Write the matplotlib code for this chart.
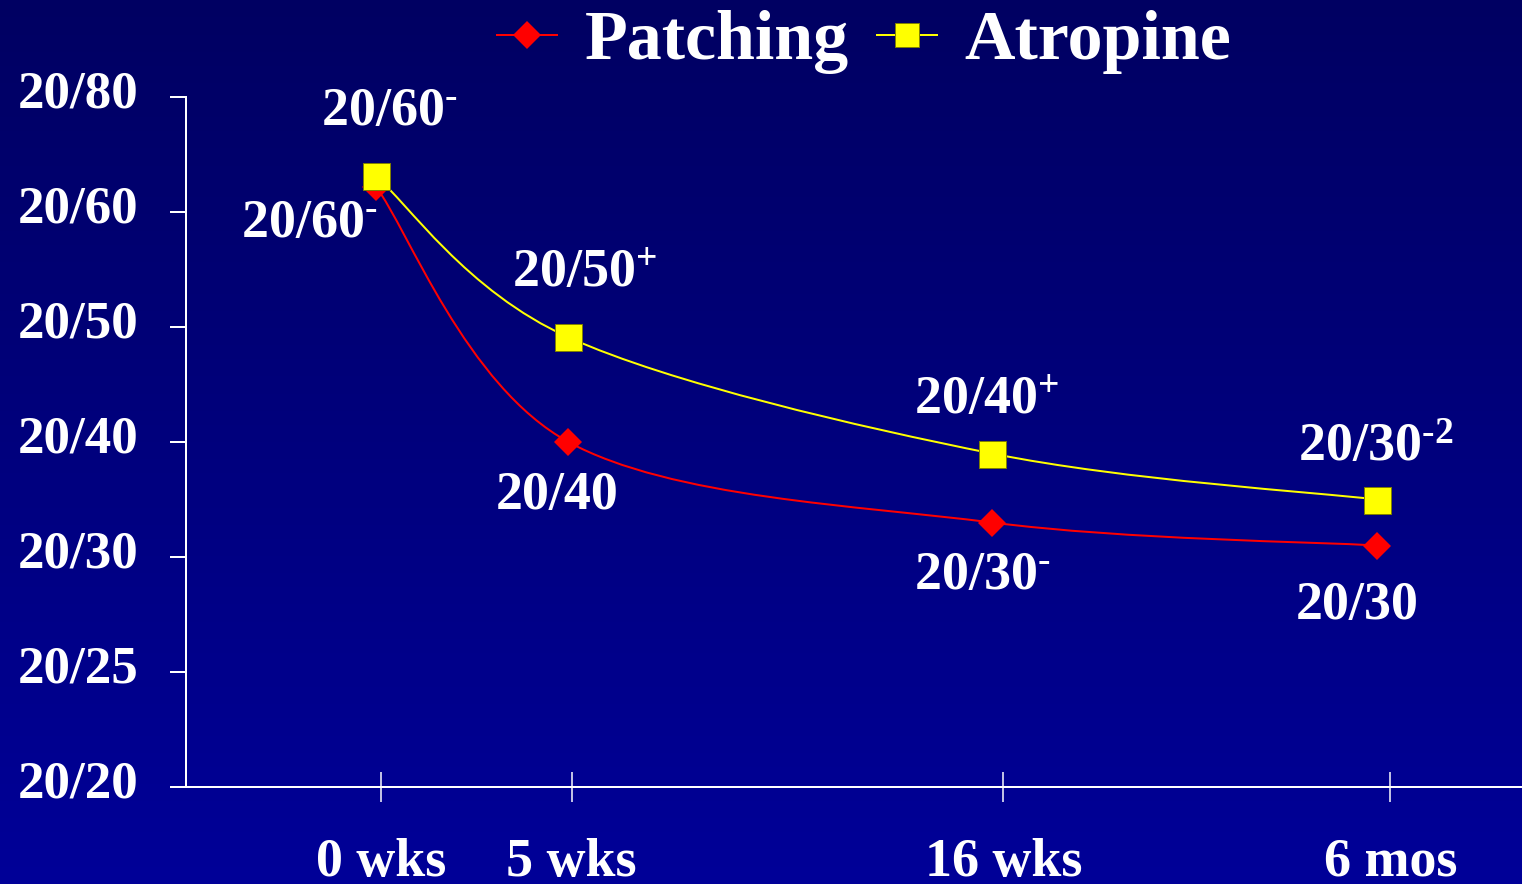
import numpy as np
import matplotlib
matplotlib.use('Agg')
import matplotlib.pyplot as plt
from matplotlib.colors import LinearSegmentedColormap
from matplotlib.lines import Line2D
from matplotlib.path import Path
from matplotlib.patches import PathPatch
from matplotlib.transforms import ScaledTranslation

plt.rcParams['font.family'] = ['Liberation Serif', 'DejaVu Serif']
plt.rcParams['font.weight'] = 'bold'
plt.rcParams['mathtext.fontset'] = 'custom'
plt.rcParams['mathtext.rm'] = 'Liberation Serif:bold'
plt.rcParams['mathtext.bf'] = 'Liberation Serif:bold'
plt.rcParams['mathtext.it'] = 'Liberation Serif:bold'
plt.rcParams['mathtext.default'] = 'rm'

# data
weeks = [0, 5, 16, 26]
tick_weeks = [0.13, 5.08, 16.3, 26.35]
x_labels = ['0 wks', '5 wks', '16 wks', '6 mos']
acuity_labels = ['20/20', '20/25', '20/30', '20/40', '20/50', '20/60', '20/80']
patching = [5.22, 3.00, 2.30, 2.10]
atropine = [5.31, 3.91, 2.90, 2.50]
patching_text = [r'$20/60^{\text{-}}$', '20/40', r'$20/30^{\text{-}}$', '20/30']
atropine_text = [r'$20/60^{\text{-}}$', r'$20/50^{+}$', r'$20/40^{+}$', r'$20/30^{\text{-}2}$']

# label offsets in points (= pixels at 72 dpi)
patching_off = [(-135, -50), (-73, -67), (-78, -67), (-81, -74)]
atropine_off = [(-55, 51), (-56, 51), (-78, 40), (-79, 38)]


def smooth_path(xs, ys):
    # excel-like smoothed line as cubic bezier segments
    pts = np.column_stack([xs, ys]).astype(float)
    n = len(pts)
    verts = [pts[0]]
    codes = [Path.MOVETO]
    for i in range(n - 1):
        p0 = pts[max(i - 1, 0)]
        p1 = pts[i]
        p2 = pts[i + 1]
        p3 = pts[min(i + 2, n - 1)]
        c1 = p1 + (p2 - p0) / 6
        c2 = p2 - (p3 - p1) / 6
        verts += [c1, c2, p2]
        codes += [Path.CURVE4] * 3
    return Path(verts, codes)


W, H = 1522, 884
fig = plt.figure(figsize=(W / 72, H / 72), dpi=72)

# gradient background
bg = fig.add_axes([0, 0, 1, 1], zorder=-1)
cmap = LinearSegmentedColormap.from_list('bg', ['#000062', '#000098'])
bg.imshow(np.linspace(0, 1, 256).reshape(-1, 1), aspect='auto', cmap=cmap,
          extent=[0, 1, 0, 1], origin='upper')
bg.axis('off')

ax = fig.add_axes([186 / W, (H - 787) / H, (W - 186) / W, 690 / H])
ax.patch.set_alpha(0)

ax.set_xlim(-4.935, 29.77)
ax.set_ylim(0, 6)

ax.add_patch(PathPatch(smooth_path(weeks, atropine), fill=False,
                       edgecolor='#FFFF00', lw=2, zorder=2))
ax.add_patch(PathPatch(smooth_path(weeks, patching), fill=False,
                       edgecolor='#FF0000', lw=2, zorder=2))
ax.plot(weeks, patching, ls='none', marker='D', ms=20, color='#FF0000',
        markeredgewidth=0, zorder=3)
ax.plot(weeks, atropine, ls='none', marker='s', ms=27, color='#FFFF00',
        markeredgecolor='#808000', markeredgewidth=1, zorder=4)

for x, y, t, off in zip(weeks, patching, patching_text, patching_off):
    ax.annotate(t, (x, y), xytext=off, textcoords='offset points',
                ha='left', va='baseline', color='white', fontsize=54,
                fontweight='bold')
for x, y, t, off in zip(weeks, atropine, atropine_text, atropine_off):
    ax.annotate(t, (x, y), xytext=off, textcoords='offset points',
                ha='left', va='baseline', color='white', fontsize=54,
                fontweight='bold')

ax.set_yticks(range(len(acuity_labels)))
ax.set_yticklabels(acuity_labels)
ax.set_xticks(tick_weeks)
ax.set_xticklabels(x_labels)

for s in ['top', 'right']:
    ax.spines[s].set_visible(False)
for s in ['left', 'bottom']:
    ax.spines[s].set_color('white')
    ax.spines[s].set_linewidth(2)
ax.tick_params(axis='y', direction='out', length=16, width=2, color='white',
               labelcolor='white', labelsize=53, pad=32)
ax.tick_params(axis='x', direction='inout', length=30, width=1.5, color='white',
               labelcolor='white', labelsize=54, pad=36)

# y labels sit a little above their ticks
shift = ScaledTranslation(0, 8 / 72, fig.dpi_scale_trans)
for lab in ax.get_yticklabels():
    lab.set_transform(lab.get_transform() + shift)

handles = [
    Line2D([], [], color='#FF0000', lw=2, marker='D', ms=20, markeredgewidth=0),
    Line2D([], [], color='#FFFF00', lw=2, marker='s', ms=24,
           markeredgecolor='#808000', markeredgewidth=1),
]
leg = fig.legend(handles, ['Patching', 'Atropine'], loc='upper center',
                 bbox_to_anchor=(0.568, 1.028), ncol=2, frameon=False,
                 fontsize=70, handlelength=0.85, handletextpad=0.4,
                 columnspacing=0.4, borderpad=0)
for t in leg.get_texts():
    t.set_color('white')
    t.set_fontweight('bold')

fig.savefig('out.png', dpi=72)
